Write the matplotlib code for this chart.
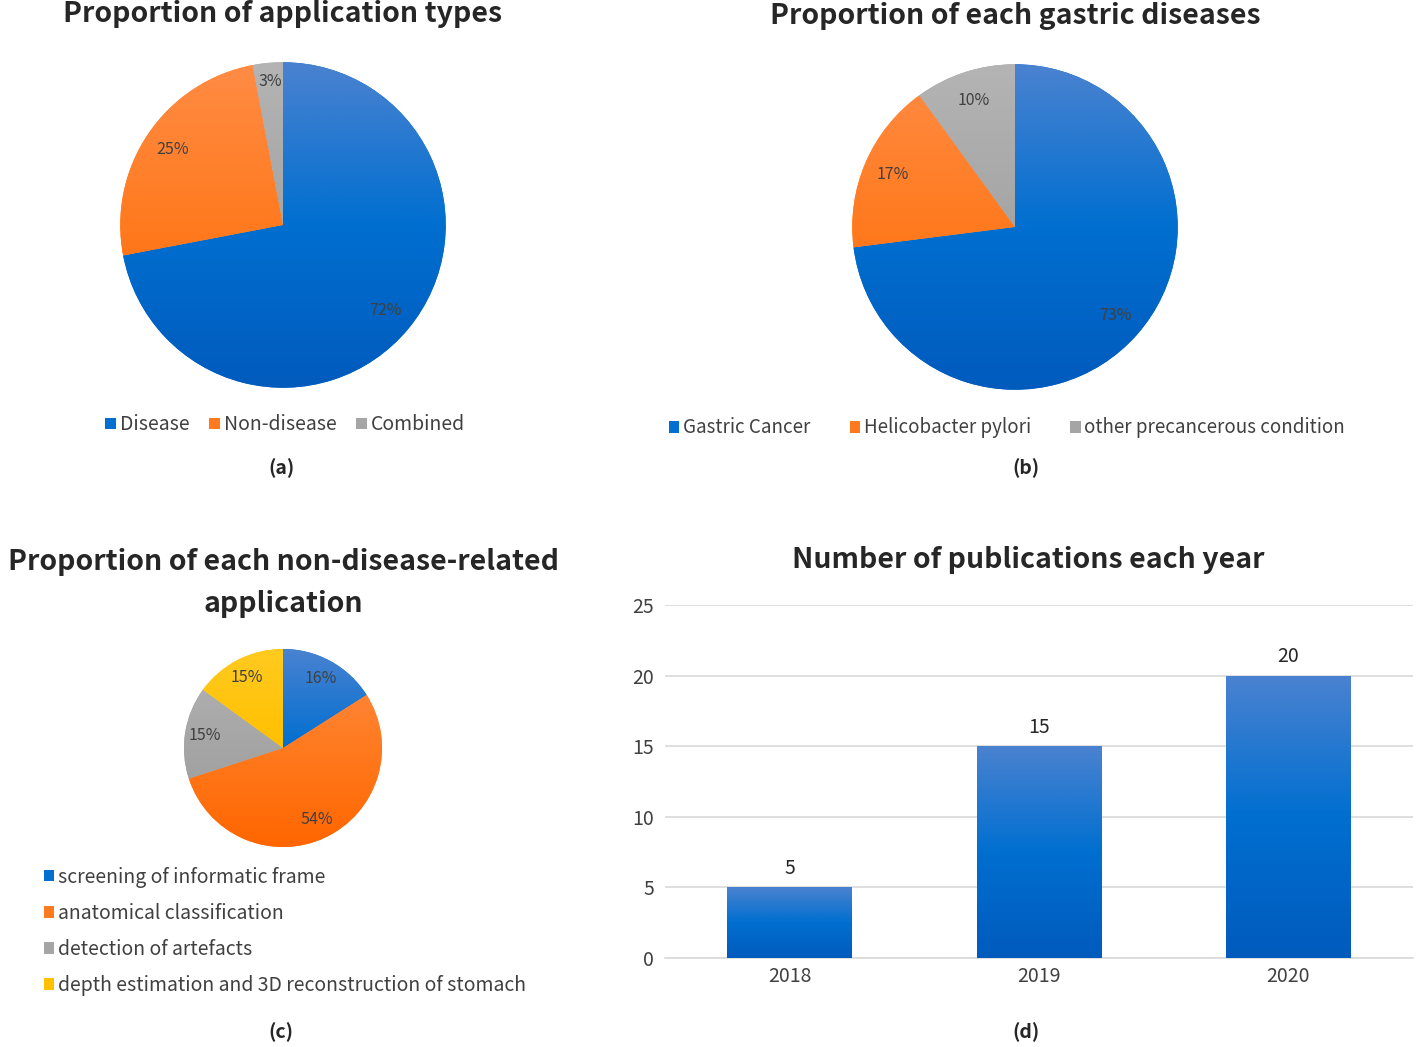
import numpy as np
import matplotlib
matplotlib.use("Agg")
import matplotlib.pyplot as plt
from matplotlib.patches import Patch
from matplotlib.colors import to_rgb

plt.rcParams['font.family'] = ['Noto Sans CJK SC', 'DejaVu Sans']

# data
app_types = ['Disease', 'Non-disease', 'Combined']
app_share = [72, 25, 3]

gastric = ['Gastric Cancer', 'Helicobacter pylori', 'other precancerous condition']
gastric_share = [73, 17, 10]

nondisease = ['screening of informatic frame', 'anatomical classification',
              'detection of artefacts', 'depth estimation and 3D reconstruction of stomach']
nondisease_share = [16, 54, 15, 15]

years = ['2018', '2019', '2020']
pubs = [5, 15, 20]

# colour stops (top, middle, bottom) for the soft gradients
BLUE = ('#4a82d0', '#006fd0', '#005bbd')
ORANGE = ('#ff8c45', '#ff7a1f', '#ff6600')
GRAY = ('#b4b4b4', '#a5a5a5', '#9a9a9a')
YELLOW = ('#ffca20', '#ffc000', '#ffb800')
TXT = '#404040'

W, H = 1416, 1047
fig = plt.figure(figsize=(W / 100, H / 100), dpi=100)


def px_axes(x0, y0, x1, y1):
    # pixel box (top-left origin) -> figure axes
    return fig.add_axes([x0 / W, 1 - y1 / H, (x1 - x0) / W, (y1 - y0) / H])


def gradient(ax, patch, cols, ext):
    c = [np.array(to_rgb(k)) for k in cols]
    t = np.linspace(0, 1, 128)[:, None]
    img = np.where(t < 0.5, c[0] * (1 - 2 * t) + c[1] * 2 * t,
                   c[1] * (2 - 2 * t) + c[2] * (2 * t - 1))[:, None, :]
    im = ax.imshow(img, extent=ext, origin='upper', aspect='auto', zorder=patch.get_zorder())
    im.set_clip_path(patch)


def draw_pie(cx, cy, r, vals, cols, pctd):
    ax = px_axes(cx - r, cy - r, cx + r, cy + r)
    wedges, _, autot = ax.pie(vals, colors=[c[1] for c in cols], startangle=90, counterclock=False,
                              autopct='%1.0f%%', pctdistance=pctd, radius=1,
                              textprops=dict(color=TXT, fontsize=11.5))
    for w, c in zip(wedges, cols):
        gradient(ax, w, c, (-1, 1, -1, 1))
    for t in autot:
        t.set_zorder(5)
    ax.set_xlim(-1.02, 1.02)
    ax.set_ylim(-1.02, 1.02)
    ax.set_aspect('equal')
    ax.axis('off')
    return ax, autot


def handles(cols):
    return [Patch(facecolor=c[1], edgecolor='none') for c in cols]


title_kw = dict(fontsize=20.5, fontweight='bold', color='#262626', ha='center', va='center')
cap_kw = dict(fontsize=14, fontweight='bold', color='#262626', ha='center', va='center')
leg_kw = dict(frameon=False, handlelength=0.55, handleheight=0.55, handletextpad=0.2,
              fontsize=14, labelcolor=TXT)


def ftxt(x, y, s, **kw):
    fig.text(x / W, 1 - y / H, s, **kw)


# (a)
_, at = draw_pie(283, 225, 166, app_share, [BLUE, ORANGE, GRAY], 0.82)
at[2].set_position((-0.08, 0.88))
ftxt(283, 14, 'Proportion of application types', **title_kw)
fig.legend(handles([BLUE, ORANGE, GRAY]), app_types, loc='center',
           bbox_to_anchor=(285 / W, 1 - 425 / H), ncol=3, columnspacing=1.0, **leg_kw)
ftxt(281, 468, '(a)', **cap_kw)

# (b)
draw_pie(1015, 227, 166, gastric_share, [BLUE, ORANGE, GRAY], 0.82)
ftxt(1015, 16, 'Proportion of each gastric diseases', **title_kw)
fig.legend(handles([BLUE, ORANGE, GRAY]), gastric, loc='center',
           bbox_to_anchor=(1007 / W, 1 - 428 / H), ncol=3, columnspacing=2.1,
           **dict(leg_kw, fontsize=13.5))
ftxt(1026, 468, '(b)', **cap_kw)

# (c)
draw_pie(283, 748, 101, nondisease_share, [BLUE, ORANGE, GRAY, YELLOW], 0.8)
ftxt(283, 583, 'Proportion of each non-disease-related\napplication', linespacing=1.6, **title_kw)
fig.legend(handles([BLUE, ORANGE, GRAY, YELLOW]), nondisease, loc='upper left',
           bbox_to_anchor=(26 / W, 1 - 849 / H), ncol=1, labelspacing=0.78, **leg_kw)
ftxt(281, 1032, '(c)', **cap_kw)

# (d)
ax = px_axes(665, 605, 1413, 958)
x = np.arange(len(years))
bars = ax.bar(x, pubs, width=0.5, color=BLUE[1], zorder=3)
for b in bars:
    x0, y0 = b.get_x(), b.get_y()
    gradient(ax, b, BLUE, (x0, x0 + b.get_width(), y0, y0 + b.get_height()))
    ax.annotate(f'{b.get_height():.0f}', (b.get_x() + b.get_width() / 2, b.get_height()),
                xytext=(0, 6), textcoords='offset points', ha='center', va='bottom',
                fontsize=14, color='#262626')
ax.set_xlim(-0.5, 2.5)
ax.set_ylim(0, 25)
ax.set_yticks([0, 5, 10, 15, 20, 25])
ax.set_xticks(x, years)
ax.yaxis.grid(True, color='#d9d9d9', lw=1.2, zorder=0)
ax.set_axisbelow(True)
for s in ['top', 'right', 'left']:
    ax.spines[s].set_visible(False)
ax.spines['bottom'].set_color('#d9d9d9')
ax.spines['bottom'].set_linewidth(1.2)
ax.tick_params(length=0, labelsize=14, labelcolor=TXT)
ax.tick_params(axis='y', pad=8)
ax.tick_params(axis='x', pad=6)
ftxt(1028, 560, 'Number of publications each year', **title_kw)
ftxt(1026, 1032, '(d)', **cap_kw)

fig.savefig('out.png', dpi=100)
